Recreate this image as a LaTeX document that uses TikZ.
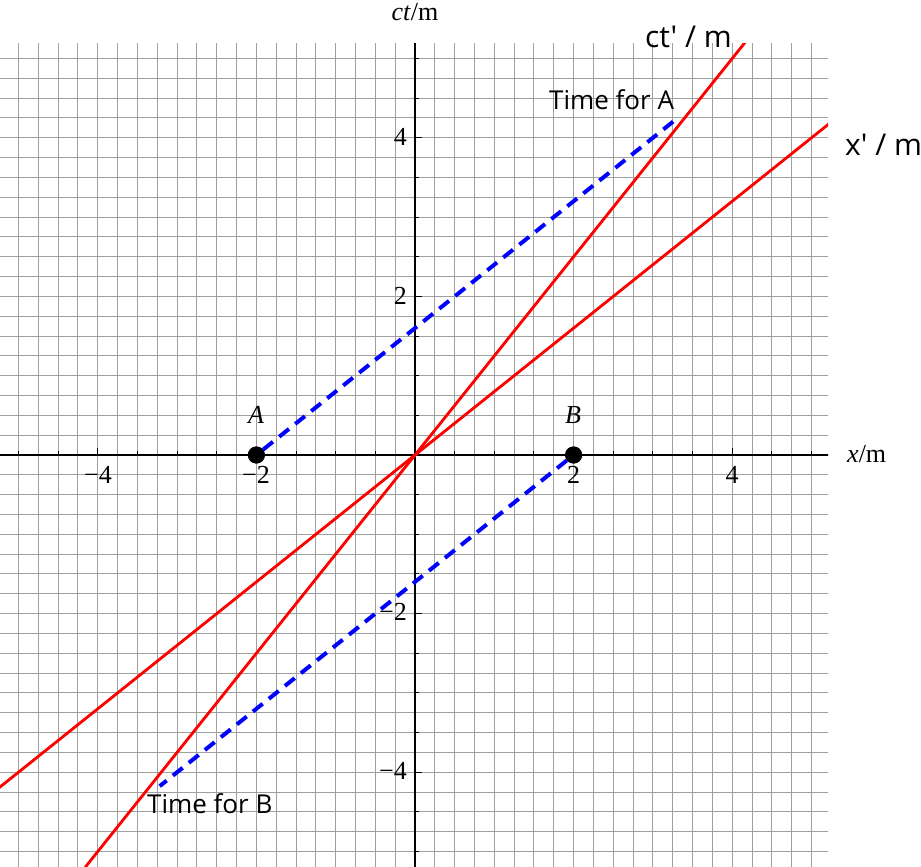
\documentclass[tikz,border=0pt]{standalone}
\usepackage{fontspec}
\setmainfont{Liberation Serif}
\newfontfamily\labsans{Open Sans}[Ligatures=TeXOff]
\begin{document}
\begin{tikzpicture}[x=1pt,y=-1pt,
  gridline/.style={draw={rgb,255:red,160;green,160;blue,160}, line width=1pt},
  axisline/.style={draw=black, line width=1.3pt},
  tickline/.style={draw=black, line width=1pt},
  redline/.style={draw=red, line width=2.8pt},
  blueline/.style={draw=blue, line width=4pt, dash pattern=on 12.5pt off 8pt},
  serif/.style={font=\fontsize{26}{29}\selectfont, inner sep=0pt},
  sanslab/.style={font=\labsans\fontsize{26}{30}\selectfont, inner sep=0pt},
  biglab/.style={font=\labsans\fontsize{30}{34}\selectfont, inner sep=0pt},
  dot/.style={circle, fill=black, inner sep=0pt, minimum size=17pt}]
\useasboundingbox (0,0) rectangle (921,867);
\fill[white] (0,0) rectangle (921,867);
\begin{scope}[shift={(415,455)}, x=79.3pt, y=79.3pt]
  \begin{scope}
    \clip (-5.24,-5.2) rectangle (5.208,5.195);
    \foreach \i in {-21,...,20} {
      \draw[gridline] (\i*0.25,-5.3) -- (\i*0.25,5.3);
      \draw[gridline] (-5.3,\i*0.25) -- (5.3,\i*0.25);
    }
    \draw[axisline] (-5.3,0) -- (5.3,0);
    \draw[axisline] (0,-5.3) -- (0,5.3);
    \foreach \t in {-10,...,10} {
      \draw[tickline] (\t*0.5,0) -- ++(0pt,4pt);
      \draw[tickline] (0,\t*0.5) -- ++(4pt,0pt);
    }
    \foreach \t in {-4,-2,2,4} {
      \draw[tickline] (\t,0) -- ++(0pt,7pt);
      \draw[tickline] (0,\t) -- ++(7pt,0pt);
    }
    \coordinate (ctlo) at (-4.16,-5.2);
    \coordinate (cthi) at (4.16,5.2);
    \coordinate (xlo) at (-5.3,-4.24);
    \coordinate (xhi) at (5.3,4.24);
    \draw[redline] (ctlo) -- (cthi);
    \draw[redline] (xlo) -- (xhi);
  \end{scope}
  \node[dot] (A) at (-2,0) {};
  \node[dot] (B) at (2,0) {};
  \coordinate (aend) at (3.33,4.264);
  \coordinate (bend) at (-3.22,-4.176);
  \draw[blueline] (A) -- (aend);
  \draw[blueline] (B) -- (bend);
  \node[dot] at (A) {};
  \node[dot] at (B) {};
\end{scope}
% axis labels
\node[serif, anchor=base] (ylab) at (415,21) {\textit{ct}/m};
\node[serif, anchor=base west] (xlab) at (847,462) {\textit{x}/m};
% tick labels x
\node[serif, anchor=base] (tx1) at (98,483) {−4};
\node[serif, anchor=base] (tx2) at (256,483) {−2};
\node[serif, anchor=base] (tx3) at (573.6,483) {2};
\node[serif, anchor=base] (tx4) at (732.2,483) {4};
% tick labels y
\node[serif, anchor=base east] (ty1) at (407,145.6) {4};
\node[serif, anchor=base east] (ty2) at (407,304.2) {2};
\node[serif, anchor=base east] (ty3) at (407,620.6) {−2};
\node[serif, anchor=base east] (ty4) at (407,779.2) {−4};
% event labels
\node[serif, anchor=base] (labA) at (256,423) {\textit{A}};
\node[serif, anchor=base] (labB) at (573,423) {\textit{B}};
% sans labels
\node[sanslab, anchor=base west] (tA) at (549,109) {Time for A};
\node[sanslab, anchor=base west] (tB) at (147,813) {Time for B};
\node[biglab, anchor=base west] (ctp) at (645,48) {ct' / m};
\node[biglab, anchor=base west] (xp) at (845,155) {x' / m};
\end{tikzpicture}
\end{document}
